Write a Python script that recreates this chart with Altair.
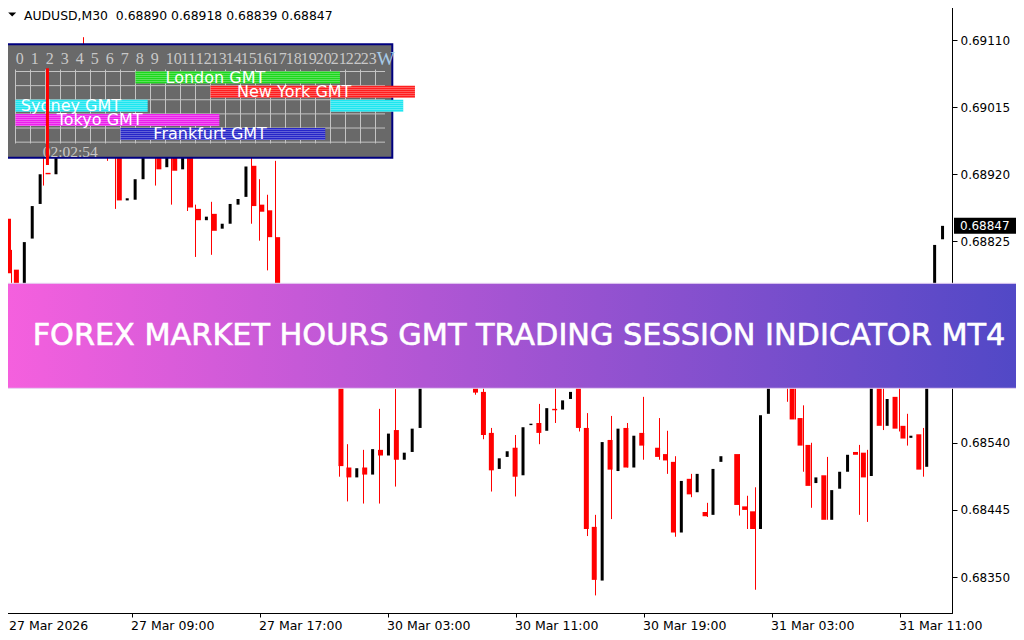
import altair as alt
import pandas as pd

# ---------------- candle data (AUDUSD, M30), one entry per bar ----------------
opens = [0.68857, 0.68785, 0.68742, 0.68829, 0.68878, 0.68922, 0.68920, 0.68968, 0.69011, 0.69053,
         0.69075, 0.69030, 0.69000, 0.69015, 0.68960, 0.68883, 0.68884, 0.68913, 0.68968, 0.69000,
         0.68930, 0.68976, 0.68927, 0.68968, 0.68871, 0.68855, 0.68864, 0.68843, 0.68850, 0.68877,
         0.68888, 0.68932, 0.68877, 0.68869, 0.68831, 0.68742, 0.68714, 0.68735, 0.68693, 0.68671,
         0.68685, 0.68654, 0.68657, 0.68505, 0.68491, 0.68505, 0.68495, 0.68530, 0.68522, 0.68558,
         0.68516, 0.68527, 0.68561, 0.68640, 0.68678, 0.68657, 0.68700, 0.68671, 0.68685, 0.68650,
         0.68612, 0.68554, 0.68503, 0.68520, 0.68533, 0.68494, 0.68565, 0.68568, 0.68557, 0.68588,
         0.68587, 0.68602, 0.68636, 0.68561, 0.68421, 0.68345, 0.68544, 0.68500, 0.68561, 0.68505,
         0.68554, 0.68545, 0.68533, 0.68524, 0.68513, 0.68413, 0.68489, 0.68470, 0.68442, 0.68438,
         0.68513, 0.68518, 0.68524, 0.68450, 0.68443, 0.68418, 0.68581, 0.68657, 0.68664, 0.68629,
         0.68575, 0.68537, 0.68483, 0.68494, 0.68431, 0.68475, 0.68499, 0.68527, 0.68526, 0.68493,
         0.68650, 0.68564, 0.68605, 0.68564, 0.68547, 0.68552, 0.68506, 0.68742, 0.68828]
highs = [0.68909, 0.68813, 0.68824, 0.68875, 0.68920, 0.68944, 0.68968, 0.69011, 0.69053, 0.69070,
         0.69114, 0.69040, 0.69020, 0.69025, 0.68965, 0.68886, 0.68913, 0.68968, 0.68997, 0.69005,
         0.68976, 0.68985, 0.68968, 0.68975, 0.68877, 0.68860, 0.68881, 0.68850, 0.68878, 0.68885,
         0.68931, 0.68947, 0.68913, 0.68891, 0.68939, 0.68753, 0.68740, 0.68742, 0.68700, 0.68691,
         0.68691, 0.68671, 0.68664, 0.68538, 0.68504, 0.68530, 0.68531, 0.68588, 0.68553, 0.68616,
         0.68526, 0.68560, 0.68640, 0.68678, 0.68685, 0.68700, 0.68710, 0.68685, 0.68691, 0.68657,
         0.68636, 0.68561, 0.68518, 0.68528, 0.68551, 0.68562, 0.68567, 0.68595, 0.68589, 0.68636,
         0.68600, 0.68612, 0.68640, 0.68582, 0.68438, 0.68541, 0.68578, 0.68560, 0.68568, 0.68550,
         0.68605, 0.68552, 0.68575, 0.68557, 0.68521, 0.68486, 0.68496, 0.68496, 0.68455, 0.68503,
         0.68521, 0.68522, 0.68524, 0.68465, 0.68477, 0.68579, 0.68657, 0.68664, 0.68678, 0.68640,
         0.68593, 0.68540, 0.68491, 0.68520, 0.68473, 0.68499, 0.68523, 0.68537, 0.68530, 0.68657,
         0.68664, 0.68602, 0.68629, 0.68581, 0.68550, 0.68561, 0.68742, 0.68820, 0.68850]
lows = [0.68780, 0.68735, 0.68742, 0.68829, 0.68878, 0.68904, 0.68920, 0.68968, 0.69011, 0.69053,
        0.69020, 0.68990, 0.69000, 0.68939, 0.68871, 0.68883, 0.68884, 0.68913, 0.68968, 0.68904,
        0.68930, 0.68877, 0.68927, 0.68868, 0.68803, 0.68855, 0.68806, 0.68843, 0.68850, 0.68877,
        0.68888, 0.68850, 0.68826, 0.68784, 0.68728, 0.68705, 0.68702, 0.68685, 0.68660, 0.68663,
        0.68646, 0.68643, 0.68492, 0.68457, 0.68491, 0.68454, 0.68495, 0.68454, 0.68522, 0.68478,
        0.68516, 0.68527, 0.68561, 0.68640, 0.68650, 0.68657, 0.68664, 0.68671, 0.68643, 0.68608,
        0.68545, 0.68471, 0.68503, 0.68520, 0.68464, 0.68494, 0.68565, 0.68538, 0.68557, 0.68568,
        0.68587, 0.68602, 0.68556, 0.68408, 0.68324, 0.68345, 0.68432, 0.68500, 0.68505, 0.68505,
        0.68516, 0.68540, 0.68516, 0.68496, 0.68407, 0.68413, 0.68463, 0.68470, 0.68435, 0.68438,
        0.68513, 0.68515, 0.68437, 0.68418, 0.68332, 0.68418, 0.68581, 0.68650, 0.68598, 0.68573,
        0.68499, 0.68448, 0.68483, 0.68431, 0.68431, 0.68475, 0.68499, 0.68438, 0.68428, 0.68493,
        0.68558, 0.68564, 0.68556, 0.68536, 0.68547, 0.68492, 0.68506, 0.68742, 0.68828]
closes = [0.68780, 0.68742, 0.68824, 0.68875, 0.68920, 0.68920, 0.68968, 0.69011, 0.69053, 0.69070,
          0.69030, 0.69000, 0.69020, 0.68954, 0.68883, 0.68886, 0.68913, 0.68968, 0.68997, 0.68927,
          0.68976, 0.68925, 0.68968, 0.68873, 0.68855, 0.68860, 0.68840, 0.68850, 0.68878, 0.68885,
          0.68931, 0.68875, 0.68867, 0.68831, 0.68742, 0.68714, 0.68735, 0.68693, 0.68671, 0.68685,
          0.68654, 0.68664, 0.68507, 0.68491, 0.68504, 0.68495, 0.68531, 0.68522, 0.68553, 0.68516,
          0.68526, 0.68560, 0.68640, 0.68678, 0.68657, 0.68700, 0.68671, 0.68685, 0.68650, 0.68611,
          0.68551, 0.68501, 0.68518, 0.68528, 0.68492, 0.68562, 0.68567, 0.68554, 0.68589, 0.68586,
          0.68600, 0.68612, 0.68561, 0.68418, 0.68346, 0.68541, 0.68502, 0.68560, 0.68505, 0.68550,
          0.68536, 0.68545, 0.68520, 0.68515, 0.68413, 0.68486, 0.68467, 0.68496, 0.68436, 0.68503,
          0.68521, 0.68518, 0.68452, 0.68445, 0.68418, 0.68579, 0.68657, 0.68657, 0.68629, 0.68573,
          0.68536, 0.68479, 0.68491, 0.68431, 0.68473, 0.68499, 0.68523, 0.68523, 0.68491, 0.68657,
          0.68564, 0.68602, 0.68560, 0.68546, 0.68550, 0.68502, 0.68742, 0.68820, 0.68847]

tick_bars = [0, 16, 32, 48, 64, 80, 96, 112]
tick_labels = ["27 Mar 2026", "27 Mar 09:00", "27 Mar 17:00", "30 Mar 03:00",
               "30 Mar 11:00", "30 Mar 19:00", "31 Mar 03:00", "31 Mar 11:00"]
price_ticks = [0.69110, 0.69015, 0.68920, 0.68825, 0.68730, 0.68635, 0.68540, 0.68445, 0.68350]
last_price = [0.68847]
header_text = "AUDUSD,M30\u00a0 0.68890 0.68918 0.68839 0.68847"
banner_text = "FOREX MARKET HOURS GMT TRADING SESSION INDICATOR MT4"

# ---------------- session panel data ----------------
hour_labels = [str(h) for h in range(24)]
hour_positions = list(range(24))
grid_hours = list(range(25))
grid_rows = [0, 1, 2, 3, 4, 5]
seg_names = ["London GMT", "New York GMT", "Sydney GMT", "Sydney GMT", "Tokyo GMT", "Frankfurt GMT"]
seg_rows = [0, 1, 2, 2, 3, 4]
seg_start = [8.0, 13.0, 0.0, 21.0, 0.0, 7.0]
seg_end = [21.63, 26.63, 8.81, 25.85, 13.59, 20.65]
seg_colors = ["#1CD81C", "#FF1E1E", "#1EE6F0", "#1EE6F0", "#EC1EEC", "#2626C8"]
label_names = ["London GMT", "New York GMT", "Sydney GMT", "Tokyo GMT", "Frankfurt GMT"]
label_rows = [0, 1, 2, 3, 4]
label_hours = [10.0, 14.77, 0.35, 2.75, 9.19]
current_hour = [2.13]
current_time = "02:02:54"

# ---------------- scales ----------------
W, H = 950, 611
xs = alt.Scale(domain=[-0.1875, 118.5625], nice=False, zero=False)
ys = alt.Scale(domain=[0.682991, 0.691638], nice=False, zero=False)
hs = alt.Scale(domain=[0, 24], range=[13.5, 373.5], nice=False, zero=False)
rs = alt.Scale(domain=[0, 5], range=[69.5, 140.15], nice=False, zero=False)

df = pd.DataFrame({"i": list(range(len(opens))), "o": opens, "h": highs, "l": lows, "c": closes})
bear = df[df["c"] < df["o"]]
bull = df[df["c"] > df["o"]]

label_js = "[" + ",".join("'%s'" % t for t in tick_labels) + "]"
bars_js = "[" + ",".join(str(b) for b in tick_bars) + "]"

x_axis = alt.Axis(values=tick_bars, labelExpr=label_js + "[indexof(" + bars_js + ", datum.value)]",
                  tickSize=4, tickColor="black", domainColor="black", labelColor="black",
                  labelFont="DejaVu Sans", labelFontSize=12.5, labelAlign="left", labelBaseline="alphabetic",
                  labelPadding=12, labelOffset={"condition": {"test": "datum.value === 0", "value": 5}, "value": -1},
                  labelOverlap=False, labelFlush=False, labelBound=False, grid=False, title=None)
y_axis = alt.Axis(orient="right", values=price_ticks, format=".5f", tickSize=5, tickColor="black",
                  domainColor="black", labelColor="black", labelFont="DejaVu Sans", labelFontSize=12,
                  labelAlign="left", labelBaseline="middle", labelPadding=3, labelOverlap=False,
                  labelFlush=False, labelBound=False, grid=False, title=None)

wicks = alt.Chart(bear).mark_rule(color="#FF0000", strokeWidth=1).encode(
    x=alt.X("i:Q", scale=xs, axis=x_axis),
    y=alt.Y("l:Q", scale=ys, axis=y_axis), y2="h:Q")
bear_body = alt.Chart(bear).mark_bar(color="#FF0000", size=5).encode(
    x=alt.X("i:Q", scale=xs, axis=None), y=alt.Y("o:Q", scale=ys, axis=None), y2="c:Q")
bull_body = alt.Chart(bull).mark_bar(color="#000000", size=3).encode(
    x=alt.X("i:Q", scale=xs, axis=None), y=alt.Y("o:Q", scale=ys, axis=None), y2="c:Q")

one = pd.DataFrame({"k": [0]})

# ---------------- session panel ----------------
panel_bg = alt.Chart(one).mark_rect(fill="#696969", stroke="#000080", strokeWidth=2).encode(
    x=alt.value(1.7), x2=alt.value(390.3), y=alt.value(42.3), y2=alt.value(155.7))
vgrid = alt.Chart(pd.DataFrame({"hr": grid_hours})).mark_rule(color="#C4C4C4", strokeWidth=1).encode(
    x=alt.X("hr:Q", scale=hs, axis=None), y=alt.value(67.5), y2=alt.value(141.5))
hgrid = alt.Chart(pd.DataFrame({"r": grid_rows})).mark_rule(color="#C4C4C4", strokeWidth=1).encode(
    y=alt.Y("r:Q", scale=rs, axis=None), x=alt.value(13.5), x2=alt.value(383))

seg = pd.DataFrame({"name": seg_names, "row": seg_rows, "s": seg_start, "e": seg_end, "col": seg_colors})
seg["top"] = seg["row"]
seg["bot"] = seg["row"] + 0.85
seg_rect = alt.Chart(seg).mark_rect().encode(
    x=alt.X("s:Q", scale=hs, axis=None), x2="e:Q",
    y=alt.Y("top:Q", scale=rs, axis=None), y2="bot:Q",
    color=alt.Color("col:N", scale=None))
stops = []
for k in range(6):
    a = k / 6.0
    b = a + 1 / 12.0
    c = (k + 1) / 6.0
    stops += [alt.GradientStop(offset=a, color="rgba(255,255,255,0)"),
              alt.GradientStop(offset=b, color="rgba(255,255,255,0)"),
              alt.GradientStop(offset=b, color="rgba(255,255,255,0.28)"),
              alt.GradientStop(offset=min(c, 1.0), color="rgba(255,255,255,0.28)")]
stripe_fill = alt.LinearGradient(gradient="linear", stops=stops, x1=0, x2=0, y1=0, y2=1)
seg_stripes = alt.Chart(seg).mark_rect(fill=stripe_fill).encode(
    x=alt.X("s:Q", scale=hs, axis=None), x2="e:Q",
    y=alt.Y("top:Q", scale=rs, axis=None), y2="bot:Q")

labels_df = pd.DataFrame({"name": label_names, "row": label_rows, "hr": label_hours})
seg_text = alt.Chart(labels_df).mark_text(align="left", baseline="alphabetic", dy=11.3, color="white",
                                          font="DejaVu Sans", fontSize=16).encode(
    x=alt.X("hr:Q", scale=hs, axis=None), y=alt.Y("row:Q", scale=rs, axis=None), text="name:N")

hour_text = alt.Chart(pd.DataFrame({"hr": hour_positions, "t": hour_labels})).mark_text(
    align="left", baseline="alphabetic", color="#C8C8C8", font="Liberation Serif", fontSize=16, dx=0.3).encode(
    x=alt.X("hr:Q", scale=hs, axis=None), y=alt.value(61.5), text="t:N")
w_text = alt.Chart(one).mark_text(align="left", baseline="alphabetic", color="#A6CBE8",
                                  font="Liberation Serif", fontSize=19).encode(
    x=alt.value(374.7), y=alt.value(63), text=alt.value("W"))
time_text = alt.Chart(one).mark_text(align="left", baseline="alphabetic", color="#C8C8C8",
                                     font="Liberation Serif", fontSize=15.5).encode(
    x=alt.value(40.7), y=alt.value(154.7), text=alt.value(current_time))
marker = alt.Chart(pd.DataFrame({"hr": current_hour})).mark_rule(color="#FF0000", strokeWidth=3).encode(
    x=alt.X("hr:Q", scale=hs, axis=None), y=alt.value(66.3), y2=alt.value(163))

# ---------------- header ----------------
header = alt.Chart(one).mark_text(align="left", baseline="alphabetic", color="black",
                                  font="DejaVu Sans", fontSize=12.4).encode(
    x=alt.value(22), y=alt.value(17.6), text=alt.value(header_text))
tri = alt.Chart(one).mark_point(shape="M-1,-0.5L1,-0.5L0,0.5Z", filled=True, color="black",
                                size=64, opacity=1).encode(x=alt.value(10.2), y=alt.value(12.4))

# ---------------- banner ----------------
banner_fill = alt.LinearGradient(gradient="linear", x1=0, x2=1, y1=0, y2=0,
                                 stops=[alt.GradientStop(offset=0, color="#F660DE"),
                                        alt.GradientStop(offset=1, color="#5048C6")])
banner = alt.Chart(one).mark_rect(fill=banner_fill, stroke="#E6D3F2", strokeWidth=1).encode(
    x=alt.value(-2), x2=alt.value(1022), y=alt.value(281.3), y2=alt.value(386.3))
banner_label = alt.Chart(one).mark_text(align="center", baseline="alphabetic", color="white",
                                        stroke="white", strokeWidth=0.6,
                                        font="DejaVu Sans", fontSize=30.3).encode(
    x=alt.value(517), y=alt.value(343), text=alt.value(banner_text))

# ---------------- current price box ----------------
lp = pd.DataFrame({"p": last_price})
price_box = alt.Chart(lp).mark_rule(color="black", strokeWidth=16, strokeCap="butt").encode(
    x=alt.value(952), x2=alt.value(1014), y=alt.Y("p:Q", scale=ys, axis=None))
price_txt = alt.Chart(lp).mark_text(align="left", baseline="middle", color="white",
                                    font="DejaVu Sans", fontSize=12).encode(
    x=alt.value(958), y=alt.Y("p:Q", scale=ys, axis=None), text=alt.Text("p:Q", format=".5f"))

chart = alt.layer(
    wicks, bear_body, bull_body,
    panel_bg, vgrid, hgrid, seg_rect, seg_stripes, seg_text, hour_text, w_text, time_text, marker,
    header, tri, banner, banner_label, price_box, price_txt
).resolve_scale(x="independent", y="independent").properties(
    width=W, height=H,
    padding={"left": -6, "top": -6, "right": 64, "bottom": 19},
    autosize=alt.AutoSizeParams(type="none"),
    background="white"
).configure_view(stroke="black", strokeWidth=1)

chart.save("out.html", embed_options={"renderer": "svg", "actions": False})
